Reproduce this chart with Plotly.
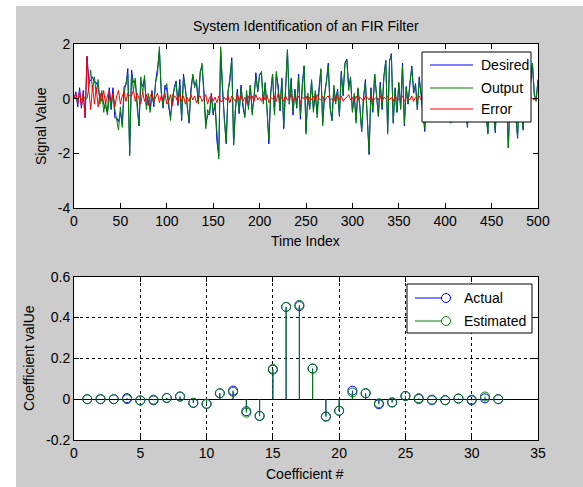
import plotly.graph_objects as go

# ---------------- data ----------------
time_index = list(range(0, 501, 2))

output_signal = [
    0.0, 0.05, -0.1, 0.1, -0.05, 0.1, 0.0, 0.0, 0.4, 1.05, 0.3, 0.8, 0.2, 0.7, -0.2, 0.3, -0.5, -0.1, -0.6, 0.1,
    -0.3, 0.2, -0.4, -0.8, -1.15, -0.3, -1.05, 0.2, 0.6, 0.9, -2.1,
    0.95, 0.3, 0.75, -0.3, -1.0, 0.8, 0.2, 0.85, -0.4, 0.2, -0.5, 0.1, -0.2, 0.6, 0.9, 1.9, 0.2, -0.3, 0.3, 0.55,
    -0.2, -0.8, 0.1, 0.3, 0.6, -0.1, 0.5, -0.7, 0.8, 0.4,
    -0.3, -0.8, 0.2, 0.9, 0.4, 0.7, -0.2, 0.9, 1.3, 0.3, -1.1, -0.4, -0.6, 0.1, -0.5, -0.2, -1.4, -2.2, 1.9, 0.4,
    -0.8, -1.6, 0.2, 0.8, 1.4, -1.7, -0.3, 0.2, -0.5, 0.4,
    -0.2, -0.7, 0.3, -0.4, 0.5, -0.6, 0.1, 0.8, 0.3, 0.85, 1.0, -0.2, 0.6, -0.5, -1.5, 0.2, 0.9, -0.6, 1.0, 0.3,
    -0.4, 0.7, -1.0, 0.4, 1.8, -0.2, 0.6, -0.5, 0.3, -0.3,
    0.8, -0.6, 0.5, 1.2, -1.3, 0.2, -0.4, 0.7, -0.5, 0.3, -0.7, 0.4, 1.1, -1.0, 0.2, 0.6, 1.2, -0.3, -0.8, 0.5,
    -0.2, 0.3, -0.6, 0.9, 0.2, 1.3, 1.4, 0.3, 0.8, -0.5,
    0.2, -0.9, 0.4, -0.3, -1.2, 0.1, 0.6, -0.7, -2.0, 0.3, -0.4, 0.9, 0.2, -0.6, 0.5, -0.3, 0.8, 1.4, -1.3, 1.4,
    1.6, -0.8, 0.3, -0.5, 0.6, -0.4, 1.2, -0.9, 0.4, -0.2,
    0.6, 1.1, 0.3, 0.5, -0.4, 0.7, 0.2, -0.6, -1.1, 0.3, -0.3, 0.5, -0.5, 0.2, 0.8, -0.2, 0.4, -0.6, 0.1, 0.6,
    -0.3, 0.2, -0.9, 0.3, 0.7, -0.4, 0.2, 0.5, -0.6, 0.1,
    -0.4, -1.0, 0.3, 0.6, -0.2, 0.4, -0.7, 0.2, 0.8, -0.3, 0.5, -0.6, -1.3, 0.4, 0.1, -0.5, -1.2, 0.3, 0.6, -0.4,
    0.2, -0.7, 0.3, -1.8, 0.2, -0.5, 0.4, -0.6, -1.4, 0.3,
    -0.3, -1.1, 0.2, 0.6, -0.2, 0.5, 1.3, 0.2, -0.1, 0.7,
]

desired_signal = [
    0.0, 0.25, -0.3, 0.4, -0.35, 0.3, -0.7, 1.55, 0.7, 0.65, 0.8, 0.6, 0.6, 0.4, 0.0, 0.2, -0.2, -0.3, -0.5, 0.4,
    -0.4, 0.4, -0.7, -0.7, -0.85, -0.5, -0.95, 0.45, 0.5, 1.1, -2.0,
    1.05, 0.6, 0.65, -0.1, -1.0, 0.6, 0.45, 0.75, -0.25, -0.05, -0.4, 0.3, -0.3, 0.65, 1.1, 1.75, 0.3, -0.35, 0.5, 0.35,
    -0.3, -0.65, -0.15, 0.4, 0.65, -0.25, 0.7, -0.8, 0.9, 0.2,
    -0.25, -0.9, 0.35, 0.85, 0.5, 0.55, -0.15, 1.0, 1.2, 0.3, -0.95, -0.6, -0.55, 0.2, -0.6, -0.15, -1.55, -2.1, 1.8, 0.3,
    -0.75, -1.65, 0.3, 0.65, 1.5, -1.7, -0.4, 0.35, -0.55, 0.5,
    -0.3, -0.65, 0.15, -0.3, 0.5, -0.5, 0.0, 0.95, 0.25, 0.9, 0.9, -0.1, 0.55, -0.35, -1.65, 0.25, 0.9, -0.5, 0.9, 0.5,
    -0.45, 0.75, -1.1, 0.5, 1.75, -0.2, 0.75, -0.6, 0.35, -0.35,
    0.9, -0.75, 0.55, 1.2, -1.2, 0.1, -0.35, 0.65, -0.4, 0.2, -0.55, 0.4, 1.05, -0.9, 0.1, 0.65, 1.3, -0.35, -0.8, 0.4,
    -0.1, 0.35, -0.65, 1.0, 0.1, 1.3, 1.45, 0.45, 0.75, -0.45,
    0.1, -0.8, 0.35, -0.25, -1.2, 0.0, 0.7, -0.65, -2.05, 0.4, -0.5, 0.9, 0.25, -0.65, 0.6, -0.4, 0.85, 1.4, -1.2, 1.35,
    1.65, -0.9, 0.4, -0.5, 0.55, -0.35, 1.3, -1.0, 0.45, -0.2,
    0.55, 1.2, 0.2, 0.55, -0.4, 0.8, 0.15, -0.55, -1.2, 0.4, -0.3, 0.45, -0.45, 0.3, 0.7, -0.2, 0.45, -0.65, 0.2, 0.6,
    -0.4, 0.25, -0.85, 0.25, 0.7, -0.3, 0.15, 0.55, -0.7, 0.1,
    -0.35, -1.05, 0.4, 0.6, -0.25, 0.45, -0.8, 0.25, 0.8, -0.2, 0.45, -0.6, -1.25, 0.3, 0.15, -0.5, -1.25, 0.4, 0.6, -0.45,
    0.25, -0.75, 0.4, -1.8, 0.1, -0.45, 0.4, -0.55, -1.45, 0.3,
    -0.25, -1.15, 0.2, 0.7, -0.25, 0.55, 1.3, 0.15, -0.05, 0.7,
]

error_signal = [
    0.0, 0.2, -0.2, 0.3, -0.3, 0.2, -0.7, 1.55, 0.3, -0.4, 0.5, -0.2, 0.4, -0.3, 0.2, -0.1, 0.3, -0.2, 0.1, 0.3,
    -0.1, 0.2, -0.3, 0.1, 0.3, -0.2, 0.1, 0.25, -0.1, 0.2, 0.1,
    0.1, 0.3, -0.1, 0.2, 0.0, -0.2, 0.25, -0.1, 0.15, -0.25, 0.1, 0.2, -0.1, 0.05, 0.2, -0.15, 0.1, -0.05, 0.2, -0.2,
    -0.1, 0.15, -0.25, 0.1, 0.05, -0.15, 0.2, -0.1, 0.1, -0.2,
    0.05, -0.1, 0.15, -0.05, 0.1, -0.15, 0.05, 0.1, -0.1, 0.0, 0.15, -0.2, 0.05, 0.1, -0.1, 0.05, -0.15, 0.1, -0.1, -0.1,
    0.05, -0.05, 0.1, -0.15, 0.1, 0.0, -0.1, 0.15, -0.05, 0.1,
    -0.1, 0.05, -0.15, 0.1, 0.0, 0.1, -0.1, 0.15, -0.05, 0.05, -0.1, 0.1, -0.05, 0.15, -0.15, 0.05, 0.0, 0.1, -0.1, 0.2,
    -0.05, 0.05, -0.1, 0.1, -0.05, 0.0, 0.15, -0.1, 0.05, -0.05,
    0.1, -0.15, 0.05, 0.0, 0.1, -0.1, 0.05, -0.05, 0.1, -0.1, 0.15, 0.0, -0.05, 0.1, -0.1, 0.05, 0.1, -0.05, 0.0, -0.1,
    0.1, 0.05, -0.05, 0.1, -0.1, 0.0, 0.05, 0.15, -0.05, 0.05,
    -0.1, 0.1, -0.05, 0.05, 0.0, -0.1, 0.1, 0.05, -0.05, 0.1, -0.1, 0.0, 0.05, -0.05, 0.1, -0.1, 0.05, 0.0, 0.1, -0.05,
    0.05, -0.1, 0.1, 0.0, -0.05, 0.05, 0.1, -0.1, 0.05, 0.0,
    -0.05, 0.1, -0.1, 0.05, 0.0, 0.1, -0.05, 0.05, -0.1, 0.1, 0.0, -0.05, 0.05, 0.1, -0.1, 0.0, 0.05, -0.05, 0.1, 0.0,
    -0.1, 0.05, 0.05, -0.05, 0.0, 0.1, -0.05, 0.05, -0.1, 0.0,
    0.05, -0.05, 0.1, 0.0, -0.05, 0.05, -0.1, 0.05, 0.0, 0.1, -0.05, 0.0, 0.05, -0.1, 0.05, 0.0, -0.05, 0.1, 0.0, -0.05,
    0.05, -0.05, 0.1, 0.0, -0.1, 0.05, 0.0, 0.05, -0.05, 0.0,
    0.05, -0.05, 0.0, 0.1, -0.05, 0.05, 0.0, -0.05, 0.05, 0.0,
]

coef_index = list(range(1, 33))
coef_actual = [0.0, 0.0, 0.0, 0.005, -0.006, -0.006, 0.006, 0.013, -0.018, -0.023, 0.029, 0.042, -0.059, -0.082,
               0.145, 0.452, 0.456, 0.15, -0.085, -0.057, 0.042, 0.029, -0.025, -0.016, 0.016, 0.001, -0.005,
               -0.005, 0.003, -0.006, 0.004, 0.0]
coef_estimated = [0.0, 0.0, 0.0, 0.0, -0.006, -0.002, 0.006, 0.013, -0.018, -0.023, 0.029, 0.036, -0.066, -0.082,
                  0.148, 0.452, 0.462, 0.15, -0.085, -0.057, 0.033, 0.029, -0.02, -0.016, 0.016, 0.005, -0.002,
                  -0.005, 0.003, -0.002, 0.013, 0.0]

top_xticks = [0, 50, 100, 150, 200, 250, 300, 350, 400, 450, 500]
top_yticks = [-4, -2, 0, 2]
top_yticktext = ["-4", "-2", "0", "2"]
bot_xticks = [0, 5, 10, 15, 20, 25, 30, 35]
bot_yticks = [-0.2, 0, 0.2, 0.4, 0.6]
bot_yticktext = ["-0.2", "0", "0.2", "0.4", "0.6"]

top_legend = ["Desired", "Output", "Error"]
bot_legend = ["Actual", "Estimated"]

BLUE = "#0000ff"
GREEN = "#008000"
RED = "#ff0000"
FONT = "Liberation Sans, Arimo, Arial, sans-serif"

# ---------------- figure geometry (pixels) ----------------
W, H = 583, 487
ML, MR, MT, MB = 74, 45, 44, 47
PW = W - ML - MR
PH = H - MT - MB


def fx(px):
    return (px - ML) / PW


def fy(py):
    return (H - MB - py) / PH


fig = go.Figure()

# top axes traces
fig.add_trace(go.Scatter(x=time_index, y=desired_signal, mode="lines", line=dict(color=BLUE, width=1),
                         xaxis="x", yaxis="y", name=top_legend[0]))
fig.add_trace(go.Scatter(x=time_index, y=output_signal, mode="lines", line=dict(color=GREEN, width=1),
                         xaxis="x", yaxis="y", name=top_legend[1]))
fig.add_trace(go.Scatter(x=time_index, y=error_signal, mode="lines", line=dict(color=RED, width=1),
                         xaxis="x", yaxis="y", name=top_legend[2]))


def stems(xs, ys):
    sx, sy = [], []
    for a, b in zip(xs, ys):
        sx += [a, a, None]
        sy += [0, b, None]
    return sx, sy


for vals, col, nm in [(coef_actual, BLUE, bot_legend[0]), (coef_estimated, GREEN, bot_legend[1])]:
    sx, sy = stems(coef_index, vals)
    fig.add_trace(go.Scatter(x=sx, y=sy, mode="lines", line=dict(color=col, width=1),
                             xaxis="x2", yaxis="y2", name=nm, hoverinfo="skip"))
    fig.add_trace(go.Scatter(x=coef_index, y=vals, mode="markers",
                             marker=dict(symbol="circle-open", size=9, color=col, line=dict(width=1, color=col)),
                             xaxis="x2", yaxis="y2", name=nm))

axis_common = dict(ticks="inside", ticklen=5, tickcolor="black", showline=True, linecolor="black",
                   linewidth=1, mirror="ticks", tickfont=dict(family=FONT, size=14, color="black"),
                   zeroline=False)

top_dom = [fy(208), 1.0]
bot_dom = [0.0, fy(276.7)]

fig.update_layout(
    width=W, height=H,
    margin=dict(l=ML, r=MR, t=MT, b=MB, pad=0),
    paper_bgcolor="#cccccc", plot_bgcolor="white",
    showlegend=False,
    xaxis=dict(domain=[0, 1], anchor="y", range=[0, 500], tickvals=top_xticks, showgrid=False, **axis_common),
    yaxis=dict(domain=top_dom, anchor="x", range=[-4, 2], tickvals=top_yticks, ticktext=top_yticktext,
               showgrid=False, **axis_common),
    xaxis2=dict(domain=[0, 1], anchor="y2", range=[0, 35], tickvals=bot_xticks, showgrid=True,
                gridcolor="black", gridwidth=1, griddash="3px,3px", **axis_common),
    yaxis2=dict(domain=bot_dom, anchor="x2", range=[-0.2, 0.6], tickvals=bot_yticks, ticktext=bot_yticktext,
                showgrid=True, gridcolor="black", gridwidth=1, griddash="3px,3px", **axis_common),
)
fig.update_yaxes(zeroline=True, zerolinecolor="black", zerolinewidth=1, selector=dict(anchor="x2"))

shapes = []
# white strips outside the grey figure window
shapes.append(dict(type="rect", xref="paper", yref="paper", x0=fx(0), x1=fx(16), y0=fy(H), y1=fy(0),
                   fillcolor="white", line=dict(width=0), layer="below"))
shapes.append(dict(type="rect", xref="paper", yref="paper", x0=fx(0), x1=fx(W), y0=fy(6), y1=fy(0),
                   fillcolor="white", line=dict(width=0), layer="below"))

annotations = []
txt = dict(family=FONT, size=14, color="black")

# top legend
shapes.append(dict(type="rect", xref="paper", yref="paper", x0=fx(422), x1=fx(531), y0=fy(122), y1=fy(52),
                   fillcolor="white", line=dict(color="black", width=1)))
for label, col, py in zip(top_legend, [BLUE, GREEN, RED], [65, 88, 109]):
    shapes.append(dict(type="line", xref="paper", yref="paper", x0=fx(430), x1=fx(473), y0=fy(py), y1=fy(py),
                       line=dict(color=col, width=1)))
    annotations.append(dict(text=label, xref="paper", yref="paper", x=fx(479), y=fy(py), xanchor="left",
                            yanchor="middle", showarrow=False, font=txt))

# bottom legend
shapes.append(dict(type="rect", xref="paper", yref="paper", x0=fx(407), x1=fx(532), y0=fy(333), y1=fy(284),
                   fillcolor="white", line=dict(color="black", width=1)))
for label, col, py in zip(bot_legend, [BLUE, GREEN], [298, 321]):
    shapes.append(dict(type="line", xref="paper", yref="paper", x0=fx(415), x1=fx(446), y0=fy(py), y1=fy(py),
                       line=dict(color=col, width=1)))
    shapes.append(dict(type="circle", xref="paper", yref="paper", x0=fx(441.5), x1=fx(450.5),
                       y0=fy(py + 4.5), y1=fy(py - 4.5), line=dict(color=col, width=1), fillcolor="white"))
    annotations.append(dict(text=label, xref="paper", yref="paper", x=fx(462), y=fy(py), xanchor="left",
                            yanchor="middle", showarrow=False, font=txt))

# titles
annotations.append(dict(text="System Identification of an FIR Filter", xref="paper", yref="paper",
                        x=fx(306), y=fy(26), xanchor="center", yanchor="middle", showarrow=False, font=txt))
annotations.append(dict(text="Time Index", xref="paper", yref="paper", x=fx(305), y=fy(241),
                        xanchor="center", yanchor="middle", showarrow=False, font=txt))
annotations.append(dict(text="Coefficient #", xref="paper", yref="paper", x=fx(305), y=fy(474),
                        xanchor="center", yanchor="middle", showarrow=False, font=txt))
annotations.append(dict(text="Signal Value", xref="paper", yref="paper", x=fx(41), y=fy(126),
                        xanchor="center", yanchor="middle", showarrow=False, font=txt, textangle=-90))
annotations.append(dict(text="Coefficient valUe", xref="paper", yref="paper", x=fx(29), y=fy(358),
                        xanchor="center", yanchor="middle", showarrow=False, font=txt, textangle=-90))

fig.update_layout(shapes=shapes, annotations=annotations)

fig.write_html(
    "out.html",
    config={"displayModeBar": False},
    post_script="document.body.style.margin='0';document.body.style.overflow='hidden';",
)
